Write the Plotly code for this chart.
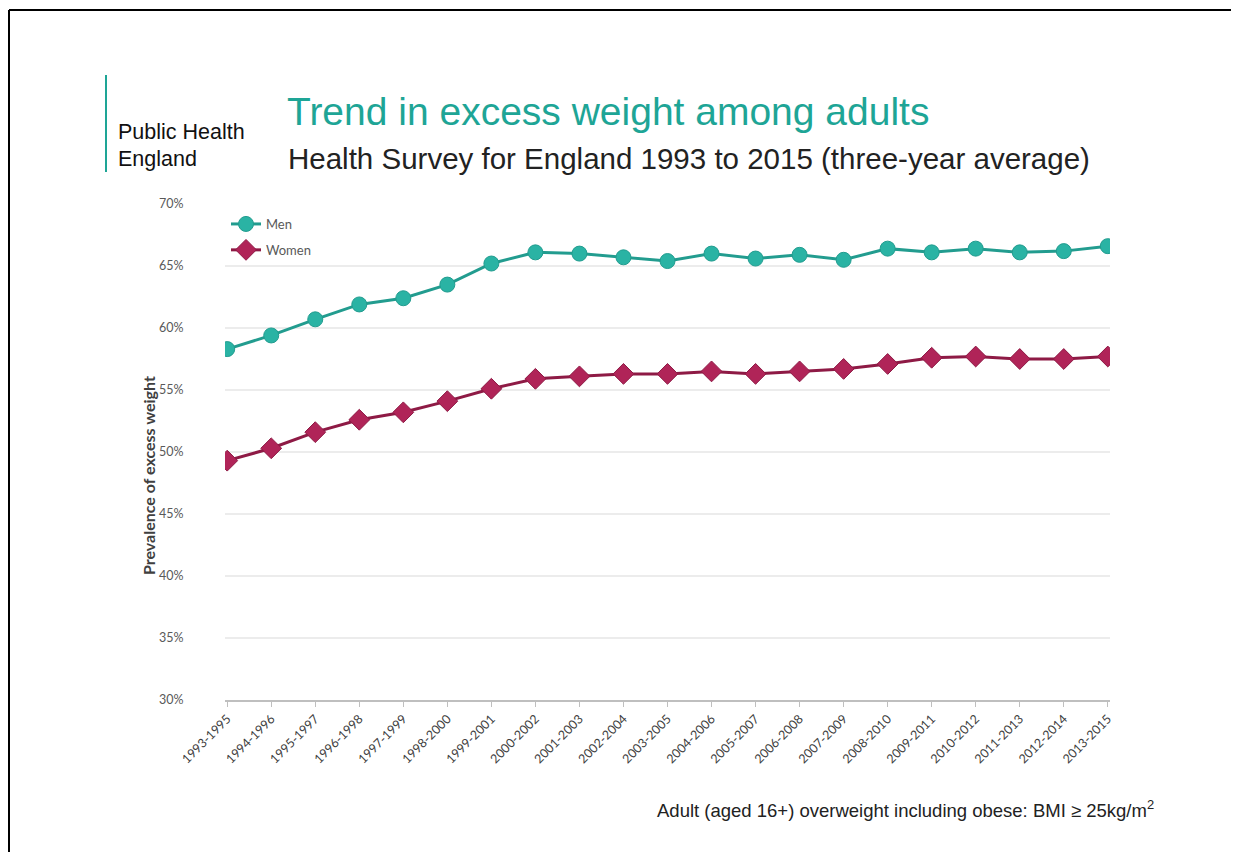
import plotly.graph_objects as go

W, H = 1239, 852

categories = ["1993-1995", "1994-1996", "1995-1997", "1996-1998", "1997-1999",
              "1998-2000", "1999-2001", "2000-2002", "2001-2003", "2002-2004",
              "2003-2005", "2004-2006", "2005-2007", "2006-2008", "2007-2009",
              "2008-2010", "2009-2011", "2010-2012", "2011-2013", "2012-2014",
              "2013-2015"]
men = [58.3, 59.4, 60.7, 61.9, 62.4, 63.5, 65.2, 66.1, 66.0, 65.7, 65.4,
       66.0, 65.6, 65.9, 65.5, 66.4, 66.1, 66.4, 66.1, 66.2, 66.6]
women = [49.3, 50.3, 51.6, 52.6, 53.2, 54.1, 55.1, 55.9, 56.1, 56.3, 56.3,
         56.5, 56.3, 56.5, 56.7, 57.1, 57.6, 57.7, 57.5, 57.5, 57.7]
y_ticks = [30, 35, 40, 45, 50, 55, 60, 65, 70]
y_tick_labels = ["30%", "35%", "40%", "45%", "50%", "55%", "60%", "65%", "70%"]

TEAL = "#2ab3a4"
TEAL_DARK = "#229c8f"
WINE = "#b02458"
WINE_DARK = "#8e1a45"

# page body margin offset (screen px -> figure px)
OX, OY = 8, 8


def px_x(x):
    return (x - OX) / W


def px_y(y):
    return 1 - (y - OY) / H


fig = go.Figure()
fig.add_trace(go.Scatter(
    x=categories, y=men, name="Men", mode="lines+markers", legendgroup="m",
    line=dict(color=TEAL_DARK, width=3),
    marker=dict(symbol="circle", size=15, color=TEAL,
                line=dict(color=TEAL_DARK, width=1)),
))
fig.add_trace(go.Scatter(
    x=categories, y=women, name="Women", mode="lines+markers", legendgroup="w",
    line=dict(color=WINE_DARK, width=3),
    marker=dict(symbol="diamond", size=16, color=WINE,
                line=dict(color=WINE_DARK, width=1)),
))

fig.update_layout(
    width=W, height=H,
    autosize=False,
    margin=dict(l=0, r=0, t=0, b=0, pad=0, autoexpand=False),
    paper_bgcolor="white", plot_bgcolor="white",
    font=dict(family="Lato, Open Sans, sans-serif", color="#595959"),
    showlegend=True,
    legend=dict(x=px_x(226), y=px_y(209), xanchor="left", yanchor="top",
                bgcolor="rgba(0,0,0,0)", font=dict(size=13, color="#595959"),
                tracegroupgap=6, itemwidth=30),
    xaxis=dict(
        domain=[px_x(225), px_x(1110)], automargin=False,
        type="category", range=[-0.05, 20.05],
        tickangle=-45, tickfont=dict(size=12.5, color="#404040"),
        showline=True, linecolor="#bfbfbf", linewidth=1.5,
        ticks="outside", ticklen=5, tickcolor="#bfbfbf",
        showgrid=False,
    ),
    yaxis=dict(
        domain=[px_y(700), px_y(204)], automargin=False,
        range=[30, 70], tickvals=y_ticks, ticktext=y_tick_labels,
        tickfont=dict(size=12.5, color="#595959"),
        showgrid=True, gridcolor="#ececec", gridwidth=1.5,
        zeroline=False, showline=False,
        ticks="outside", ticklen=38, tickcolor="rgba(0,0,0,0)",
    ),
)

annotations = [
    dict(text="Trend in excess weight among adults", x=px_x(285), y=px_y(111),
         xanchor="left", yanchor="middle",
         font=dict(family="Liberation Sans, Arial", size=39, color="#1ea596")),
    dict(text="Health Survey for England 1993 to 2015 (three-year average)",
         x=px_x(286), y=px_y(158), xanchor="left", yanchor="middle",
         font=dict(family="Liberation Sans, Arial", size=29.5, color="#222222")),
    dict(text="Public Health", x=px_x(116), y=px_y(132), xanchor="left", yanchor="middle",
         font=dict(family="Liberation Sans, Arial", size=21.5, color="#111111")),
    dict(text="England", x=px_x(116), y=px_y(159), xanchor="left", yanchor="middle",
         font=dict(family="Liberation Sans, Arial", size=21.5, color="#111111")),
    dict(text="<b>Prevalence of excess weight</b>", x=px_x(148), y=px_y(476),
         xanchor="center", yanchor="middle", textangle=-90,
         font=dict(family="Lato, Open Sans, sans-serif", size=16, color="#404040")),
    dict(text="Adult (aged 16+) overweight including obese: BMI \u2265 25kg/m<sup>2</sup>",
         x=px_x(1156), y=px_y(809), xanchor="right", yanchor="middle",
         font=dict(family="Liberation Sans, Arial", size=18.5, color="#222222")),
]
for a in annotations:
    a.update(xref="paper", yref="paper", showarrow=False)
fig.update_layout(annotations=annotations)

shapes = [
    # slide border (top and left)
    dict(type="line", x0=px_x(9), x1=1.0, y0=px_y(10), y1=px_y(10),
         line=dict(color="black", width=2)),
    dict(type="line", x0=px_x(9), x1=px_x(9), y0=px_y(10), y1=0,
         line=dict(color="black", width=2)),
    # logo rule
    dict(type="line", x0=px_x(106), x1=px_x(106), y0=px_y(75), y1=px_y(172),
         line=dict(color="#1ea596", width=2)),
]
for s in shapes:
    s.update(xref="paper", yref="paper")
fig.update_layout(shapes=shapes)

fig.write_html("out.html")
